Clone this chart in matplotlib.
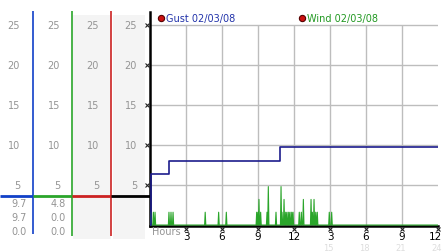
import matplotlib
matplotlib.use('Agg')
import matplotlib.pyplot as plt
import matplotlib.transforms as mtransforms
from matplotlib.patches import Rectangle

# gust: step line (hours since start, mph)
gust_hours = [0.0, 0.05, 1.6, 10.8, 24.0]
gust_vals = [0.0, 6.4, 8.0, 9.7, 9.7]

# wind: short spikes (hour, peak mph)
wind_hours = [0.08, 0.28, 0.42, 1.58, 1.75, 1.92, 4.6, 5.72, 6.36,
              8.89, 9.0, 9.08, 9.22, 9.75, 9.86, 10.5,
              10.92, 11.0, 11.17, 11.31, 11.42, 11.56, 11.67, 11.81, 11.92,
              12.44, 12.61, 12.78, 13.42, 13.53, 13.67, 13.81, 13.94,
              14.94, 15.14]
wind_vals = [1.6, 1.6, 1.6, 1.6, 1.6, 1.6, 1.6, 1.6, 1.6,
             1.6, 1.6, 3.2, 1.6, 1.6, 4.8, 1.6,
             4.8, 1.6, 3.2, 1.6, 1.6, 1.6, 1.6, 1.6, 1.6,
             1.6, 1.6, 3.2, 3.2, 1.6, 3.2, 1.6, 1.6,
             1.6, 1.6]

hour_ticks = [3, 6, 9, 12, 15, 18, 21, 24]
hour_labels = ['3', '6', '9', '12', '3', '6', '9', '12']
faint_ticks = [15, 18, 21, 24]
faint_labels = ['15', '18', '21', '24']
y_ticks = [5, 10, 15, 20, 25]
gust_stats = ['9.7', '9.7', '0.0']
wind_stats = ['4.8', '0.0', '0.0']
legend_labels = ['Gust 02/03/08', 'Wind 02/03/08']

GUST = '#1c1c8c'
BLUE = '#1040c8'
GREEN = '#2aa52a'
RED = '#cc2222'
GRID = '#bdbdbd'
GREYTXT = '#949494'

W, H = 442, 253
fig = plt.figure(figsize=(W / 100, H / 100), dpi=100)
fig.patch.set_facecolor('white')

# main axes box in pixels
x0, x1, ytop, ybot = 150, 438, 13, 227
ax = fig.add_axes([x0 / W, 1 - ybot / H, (x1 - x0) / W, (ybot - ytop) / H])
ax.set_xlim(0, 24)
ax.set_ylim(-0.12, 26.6)
ax.set_facecolor('none')

for s in ['top', 'right']:
    ax.spines[s].set_visible(False)
ax.spines['left'].set_linewidth(1.8)
ax.spines['bottom'].set_linewidth(1.8)

# grid
ax.hlines(y_ticks, 0, 24, color=GRID, lw=1, zorder=1)
ax.vlines(hour_ticks[:-1], 0, 25, color=GRID, lw=1, zorder=1)

# wind spikes
wx, wy = [0], [0]
for t, v in zip(wind_hours, wind_vals):
    wx += [t - 0.05, t, t + 0.05]
    wy += [0, v, 0]
wx.append(24)
wy.append(0)
ax.plot(wx, wy, color=GREEN, lw=0.8, zorder=3)

# gust step line
ax.plot(gust_hours, gust_vals, drawstyle='steps-post', color=GUST, lw=1.2, zorder=4)

# ticks
ax.set_xticks(hour_ticks)
ax.set_xticklabels(hour_labels, fontsize=7.5)
ax.tick_params(axis='x', length=0, pad=3.5)
last = ax.get_xticklabels()[-1]
last.set_transform(last.get_transform() +
                   mtransforms.ScaledTranslation(-3 / 100, 0, fig.dpi_scale_trans))
ax.set_yticks([])
ax.plot(hour_ticks, [-0.5] * len(hour_ticks), 'x', color='#222222', ms=2.5,
        mew=0.8, clip_on=False, zorder=5)
ax.plot([-0.25] * len(y_ticks), y_ticks, 'x', color='#222222', ms=2.5,
        mew=0.8, clip_on=False, zorder=5)
for t, lab in zip(faint_ticks, faint_labels):
    ax.text(t - 0.1, -2.75, lab, ha='center', va='center', fontsize=6,
            color='#dddddd', clip_on=False)
ax.text(0.2, -0.7, 'Hours', ha='left', va='center', fontsize=7,
        color=GREYTXT, clip_on=False)

# legend
ax.plot([0.95, 12.7], [25.9, 25.9], 'o', ms=4.5, mfc='#cc1111', mec='#550000',
        mew=0.8, clip_on=False, zorder=6)
ax.text(1.3, 25.9, legend_labels[0], color='#2233aa', fontsize=7,
        va='center', ha='left', clip_on=False)
ax.text(13.05, 25.9, legend_labels[1], color='#229922', fontsize=7,
        va='center', ha='left', clip_on=False)

# left value panel, sharing y with the main chart
lp = fig.add_axes([0, 1 - ybot / H, x0 / W, (ybot - ytop) / H], sharey=ax)
lp.set_xlim(0, 150)
lp.axis('off')
lp.set_zorder(-1)

for xa, xb in [(73, 111), (113, 145)]:
    lp.add_patch(Rectangle((xa, -1.75), xb - xa, 28.0, facecolor='#f4f4f4',
                           edgecolor='none', clip_on=False, zorder=0))

lp.vlines(33, -1.15, 26.75, color=BLUE, lw=1.2, clip_on=False, zorder=2)
lp.vlines(72, -1.4, 26.75, color=GREEN, lw=1.2, clip_on=False, zorder=2)
lp.vlines(111, -1.4, 26.75, color=RED, lw=1.2, clip_on=False, zorder=2)

cursor = 3.6
for xa, xb, c in [(0, 33, BLUE), (33, 72, GREEN), (72, 111, RED), (111, 150, 'black')]:
    lp.hlines(cursor, xa, xb, color=c, lw=2, clip_on=False, zorder=3)

for xr in [20, 60, 99, 137]:
    for v in y_ticks:
        lp.text(xr, v, str(v), ha='right', va='center', fontsize=7,
                color=GREYTXT, clip_on=False)

stat_rows = [2.75, 1.0, -0.75]
for yv, g, w in zip(stat_rows, gust_stats, wind_stats):
    lp.text(27, yv, g, ha='right', va='center', fontsize=7, color=GREYTXT, clip_on=False)
    lp.text(66, yv, w, ha='right', va='center', fontsize=7, color=GREYTXT, clip_on=False)

plt.savefig('out.png', dpi=100)
